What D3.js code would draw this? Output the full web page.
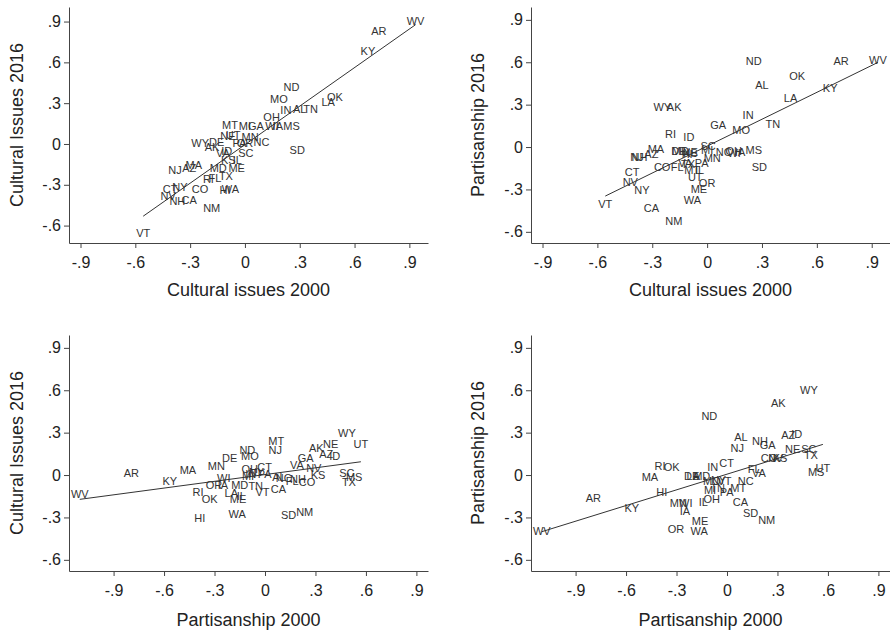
<!DOCTYPE html>
<html>
<head>
<meta charset="utf-8">
<script src="https://cdn.jsdelivr.net/npm/d3@7"></script>
<style>
  body { margin: 0; background: #fff; }
  svg text { font-family: "Liberation Sans", Arial, sans-serif; }
</style>
</head>
<body>
<svg id="chart" width="890" height="630"></svg>
<script>
// State labels, in the same order for every array below
const states = ["AL","AK","AZ","AR","CA","CO","CT","DE","FL","GA","HI","ID","IL","IN","IA","KS","KY","LA","ME","MD",
  "MA","MI","MN","MS","MO","MT","NE","NV","NH","NJ","NM","NY","NC","ND","OH","OK","OR","PA","RI","SC",
  "SD","TN","TX","UT","VT","VA","WA","WV","WI","WY"]

// top row x: cultural issues 2000
const cultural2000 = [0.30,-0.18,-0.305,0.733,-0.305,-0.246,-0.41,-0.155,-0.164,0.06,-0.109,-0.10,-0.042,0.224,0.18,-0.091,0.673,0.456,-0.045,-0.146,
  -0.28,0.0,0.028,0.255,0.186,-0.082,-0.093,-0.42,-0.37,-0.383,-0.182,-0.356,0.091,0.255,0.146,0.493,0.0,-0.03,-0.2,0.005,
  0.286,0.36,-0.104,-0.065,-0.557,-0.12,-0.08,0.934,0.148,-0.245]

// top left y: cultural issues 2016
const culturalTop2016 = [0.256,-0.02,-0.18,0.833,-0.413,-0.334,-0.33,0.017,-0.253,0.133,-0.339,-0.05,-0.118,0.25,0.133,-0.118,0.685,0.307,-0.18,-0.18,
  -0.155,0.133,0.054,0.133,0.33,0.142,0.059,-0.383,-0.418,-0.19,-0.474,-0.315,0.012,0.42,0.2,0.344,0.005,0.005,-0.26,-0.064,
  -0.044,0.256,-0.236,0.066,-0.658,-0.064,-0.33,0.906,0.133,0.005]

// top right y: partisanship 2016
const partisanTop2016 = [0.44,0.28,-0.048,0.606,-0.431,-0.14,-0.175,-0.03,-0.14,0.153,-0.05,0.068,-0.163,0.227,-0.035,-0.045,0.417,0.346,-0.294,-0.03,
  -0.017,-0.02,-0.08,-0.019,0.121,-0.163,-0.035,-0.25,-0.068,-0.068,-0.526,-0.301,-0.033,0.611,-0.03,0.5,-0.258,-0.11,0.09,0.008,
  -0.145,0.161,-0.12,-0.211,-0.405,-0.116,-0.377,0.618,-0.04,0.28]

// bottom row x: partisanship 2000
const partisan2000 = [0.083,0.305,0.364,-0.794,0.08,0.25,-0.002,-0.21,0.162,0.242,-0.388,0.414,-0.141,-0.085,-0.25,0.315,-0.566,-0.2,-0.16,-0.15,
  -0.458,-0.101,-0.289,0.53,-0.09,0.067,0.39,0.29,0.196,0.061,0.236,-0.05,0.111,-0.105,-0.091,-0.329,-0.303,-0.002,-0.398,0.487,
  0.14,-0.055,0.499,0.57,-0.015,0.19,-0.165,-1.101,-0.245,0.487]

// bottom left y: cultural issues 2016
const culturalBottom2016 = [-0.017,0.194,0.147,0.012,-0.1,-0.052,0.059,0.123,-0.04,0.123,-0.301,0.135,-0.15,0.005,-0.071,0.0,-0.043,-0.13,-0.171,-0.071,
  0.036,-0.005,0.064,-0.012,0.135,0.244,0.218,0.052,-0.03,0.178,-0.26,0.02,-0.02,0.178,0.04,-0.173,-0.071,0.007,-0.118,0.012,
  -0.284,-0.076,-0.047,0.218,-0.118,0.071,-0.277,-0.135,-0.024,0.296]

// bottom right y: partisanship 2016
const partisanBottom2016 = [0.268,0.51,0.284,-0.166,-0.194,0.118,0.088,-0.007,0.04,0.209,-0.123,0.289,-0.19,0.059,-0.256,0.118,-0.23,-0.007,-0.329,-0.007,
  -0.016,-0.105,-0.197,0.019,-0.04,-0.09,0.182,0.118,0.244,0.19,-0.315,-0.035,-0.043,0.415,-0.173,0.059,-0.384,-0.118,0.066,0.182,
  -0.272,-0.095,0.142,0.052,-0.045,0.012,-0.398,-0.396,-0.197,0.604]

// fitted values at the lowest and highest x of each panel
const fitTopLeft = [-0.531, 0.877]
const fitTopRight = [-0.347, 0.599]
const fitBottomLeft = [-0.172, 0.094]
const fitBottomRight = [-0.401, 0.217]

const xTickValues = [-0.9, -0.6, -0.3, 0, 0.3, 0.6, 0.9]
const yTickValues = [-0.6, -0.3, 0, 0.3, 0.6, 0.9]

const panels = [
  { x: cultural2000, y: culturalTop2016, fit: fitTopLeft,
    xTitle: "Cultural issues 2000", yTitle: "Cultural Issues 2016",
    left: 69, right: 428, top: 7, bottom: 243, xDomain: [-0.963, 1.002], yDomain: [-0.728, 1.007],
    yTitleX: 23, xTitleY: 296 },
  { x: cultural2000, y: partisanTop2016, fit: fitTopRight,
    xTitle: "Cultural issues 2000", yTitle: "Partisanship 2016",
    left: 531, right: 890, top: 7, bottom: 243, xDomain: [-0.963, 1.0], yDomain: [-0.679, 0.991],
    yTitleX: 484, xTitleY: 296 },
  { x: partisan2000, y: culturalBottom2016, fit: fitBottomLeft,
    xTitle: "Partisanship 2000", yTitle: "Cultural Issues 2016",
    left: 69, right: 428, top: 335, bottom: 571, xDomain: [-1.165, 0.969], yDomain: [-0.679, 0.991],
    yTitleX: 23, xTitleY: 626 },
  { x: partisan2000, y: partisanBottom2016, fit: fitBottomRight,
    xTitle: "Partisanship 2000", yTitle: "Partisanship 2016",
    left: 531, right: 890, top: 335, bottom: 571, xDomain: [-1.165, 0.969], yDomain: [-0.679, 0.991],
    yTitleX: 484, xTitleY: 626 }
]

// Stata style tick labels: ".9", "-.6", "0"
const fmt = d => String(d).replace(/^(-?)0\./, "$1.")

const svg = d3.select("#chart")
const axisColor = "#444"

panels.forEach(p => {
  const x = d3.scaleLinear().domain(p.xDomain).range([p.left, p.right])
  const y = d3.scaleLinear().domain(p.yDomain).range([p.bottom, p.top])
  const g = svg.append("g")

  // Y axis
  const ya = g.append("g")
    .attr("transform", `translate(${p.left},0)`)
    .call(d3.axisLeft(y).tickValues(yTickValues).tickFormat(fmt).tickSize(5).tickPadding(3).tickSizeOuter(0))
  // X axis
  const xa = g.append("g")
    .attr("transform", `translate(0,${p.bottom})`)
    .call(d3.axisBottom(x).tickValues(xTickValues).tickFormat(fmt).tickSize(5).tickPadding(9).tickSizeOuter(0))

  ;[ya, xa].forEach(a => {
    a.attr("font-family", null).attr("font-size", null)
    a.select(".domain").attr("stroke", axisColor)
    a.selectAll(".tick line").attr("stroke", axisColor)
    a.selectAll(".tick text").attr("fill", "#222").style("font-size", "16px")
  })

  // Axis titles
  g.append("text")
    .attr("transform", `translate(${p.yTitleX},${(p.top + p.bottom) / 2}) rotate(-90)`)
    .attr("text-anchor", "middle")
    .attr("fill", "#222")
    .style("font-size", "18px")
    .text(p.yTitle)

  g.append("text")
    .attr("x", (p.left + p.right) / 2)
    .attr("y", p.xTitleY)
    .attr("text-anchor", "middle")
    .attr("fill", "#222")
    .style("font-size", "18px")
    .text(p.xTitle)

  // Fitted line over the range of x
  const [x0, x1] = d3.extent(p.x)
  g.append("line")
    .attr("x1", x(x0)).attr("y1", y(p.fit[0]))
    .attr("x2", x(x1)).attr("y2", y(p.fit[1]))
    .attr("stroke", "#333")
    .attr("stroke-width", 1)

  // State labels centred on each point
  g.selectAll(".label")
    .data(states)
    .enter()
    .append("text")
    .attr("class", "label")
    .attr("x", (d, i) => x(p.x[i]))
    .attr("y", (d, i) => y(p.y[i]))
    .attr("dy", "0.36em")
    .attr("text-anchor", "middle")
    .attr("fill", "#333")
    .style("font-size", "11px")
    .text(d => d)
})
</script>
</body>
</html>
